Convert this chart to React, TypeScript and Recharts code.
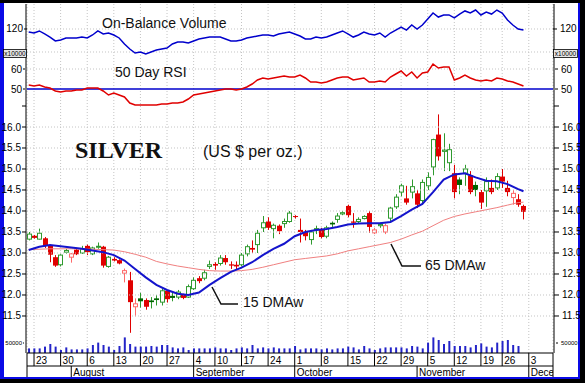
import React from "react"
import { Bar, CartesianGrid, ComposedChart, Line, ReferenceLine, XAxis, YAxis } from "recharts"

const SANS = "'Liberation Sans', Arial, sans-serif"
const SERIF = "'Liberation Serif', 'Times New Roman', serif"

// trading days 20 Jul 2007 .. 30 Nov 2007, index 0..93
const openP = [13.33, 13.41, 13.33, 13.35, 13.18, 12.9, 12.72, 13.02, 12.9, 13.08,
  13.0, 13.17, 12.98, 13.14, 13.15, 12.68, 12.86, 12.83, 12.52, 12.35,
  11.72, 11.92, 11.88, 11.87, 11.92, 11.83, 12.1, 11.98, 11.95, 12.0,
  11.95, 12.15, 12.4, 12.4, 12.68, 12.74, 12.75, 12.88, 12.73, 12.72,
  12.72, 12.98, 13.12, 13.2, 13.6, 13.75, 13.58, 13.65, 13.7, 13.75,
  13.88, 13.55, 13.5, 13.32, 13.55, 13.55, 13.4, 13.72, 13.8, 13.93,
  14.12, 13.75, 13.75, 13.82, 13.95, 13.48, 13.65, 13.5, 13.83, 14.1,
  14.45, 14.3, 14.45, 14.42, 14.25, 14.6, 15.05, 15.82, 15.42, 15.15,
  14.9, 14.75, 14.9, 14.85, 14.62, 14.45, 14.48, 14.55, 14.55, 14.82,
  14.55, 14.32, 14.28, 14.12]
const highP = [13.5, 13.43, 13.58, 13.38, 13.2, 12.95, 12.97, 13.1, 13.0, 13.1,
  13.17, 13.2, 13.15, 13.25, 13.17, 12.93, 12.9, 12.85, 12.63, 12.55,
  11.92, 12.05, 11.92, 11.95, 12.0, 12.15, 12.12, 12.05, 12.12, 12.03,
  12.25, 12.42, 12.45, 12.6, 12.82, 12.78, 12.95, 12.95, 12.8, 12.8,
  13.0, 13.2, 13.3, 13.55, 13.88, 13.85, 13.7, 13.68, 13.82, 14.0,
  13.9, 13.82, 13.55, 13.55, 13.65, 13.6, 13.65, 13.75, 13.95, 14.0,
  14.15, 13.95, 13.85, 13.9, 14.0, 13.6, 13.72, 13.7, 14.1, 14.4,
  14.65, 14.6, 14.75, 14.5, 14.75, 14.92, 15.72, 16.3, 15.85, 15.6,
  15.1, 14.8, 15.1, 14.95, 14.7, 14.5, 14.8, 14.75, 14.9, 15.0,
  14.72, 14.5, 14.4, 14.15]
const lowP = [13.3, 13.34, 13.32, 13.12, 12.78, 12.67, 12.68, 12.98, 12.77, 12.95,
  12.98, 12.95, 12.95, 13.1, 12.65, 12.65, 12.8, 12.73, 12.3, 11.1,
  11.49, 11.7, 11.65, 11.68, 11.75, 11.75, 11.82, 11.85, 11.9, 11.9,
  11.93, 12.12, 12.28, 12.35, 12.62, 12.6, 12.7, 12.72, 12.62, 12.6,
  12.68, 12.92, 13.0, 13.0, 13.5, 13.55, 13.35, 13.45, 13.6, 13.72,
  13.82, 13.25, 13.3, 13.2, 13.45, 13.35, 13.35, 13.62, 13.72, 13.9,
  13.85, 13.6, 13.7, 13.8, 13.48, 13.45, 13.6, 13.45, 13.75, 14.05,
  14.35, 14.15, 14.3, 14.07, 14.15, 14.5, 14.85, 15.2, 14.95, 14.95,
  14.3, 14.4, 14.6, 14.4, 14.35, 14.05, 14.1, 14.4, 14.5, 14.55,
  14.35, 14.15, 14.1, 13.8]
const closeP = [13.45, 13.36, 13.47, 13.17, 12.96, 12.7, 12.95, 13.06, 12.98, 12.97,
  13.1, 13.02, 13.12, 13.16, 12.7, 12.9, 12.82, 12.75, 12.58, 11.83,
  11.79, 11.85, 11.72, 11.83, 11.88, 12.1, 11.9, 11.93, 12.07, 11.93,
  12.2, 12.35, 12.33, 12.53, 12.72, 12.7, 12.88, 12.78, 12.7, 12.68,
  12.95, 13.15, 13.08, 13.47, 13.72, 13.6, 13.66, 13.52, 13.75, 13.95,
  13.86, 13.5, 13.4, 13.5, 13.58, 13.38, 13.6, 13.68, 13.88, 13.96,
  13.9, 13.72, 13.8, 13.87, 13.62, 13.55, 13.68, 13.65, 14.07, 14.33,
  14.6, 14.2, 14.58, 14.15, 14.68, 14.8, 15.7, 15.3, 15.45, 15.46,
  14.45, 14.62, 15.0, 14.45, 14.5, 14.2, 14.7, 14.45, 14.82, 14.7,
  14.45, 14.42, 14.15, 13.98]

// volume in thousands
const volK: (number | null)[] = [23, 23, 23, 32, 45, 32, 15, 28, 18, 18,
  18, 23, 40, 52, 40, 32, 15, 35, 78, 45,
  32, 32, 32, 35, 32, 40, 40, 28, 23, 28,
  15, 23, 23, 23, 23, 28, 23, 23, 15, 23,
  28, 23, 40, 23, 28, 23, 28, 23, 23, 23,
  35, 18, 23, 23, 23, 18, 23, 18, 23, 23,
  32, 28, 18, 35, 23, 15, 23, 28, 28, 28,
  28, 23, 35, 32, 23, 52, 78, 65, 45, 60,
  35, 35, 35, 28, 40, 48, 32, 28, 52, 60,
  65, 40, 35, null]

// on-balance volume, x10000
const obv = [117.4, 116.5, 118.3, 115.7, 113, 109.6, 110.4, 112.2, 112.2, 112.2,
  113, 112.2, 114.8, 118.3, 115.7, 116.5, 114.8, 112.2, 107, 102.6,
  99.1, 100, 98.3, 100, 101.7, 102.6, 103.5, 107, 108.7, 108.7,
  107.8, 109.6, 111.3, 112.2, 113, 113, 113, 111.3, 109.6, 109.6,
  110.4, 112.2, 113, 113.9, 114.8, 114.8, 113.9, 115.7, 116.5, 117.4,
  115.7, 113.9, 111.3, 111.3, 113, 112.2, 113, 114.8, 116.5, 118.3,
  115.7, 113, 114.8, 117.4, 115.7, 114.8, 116.5, 113, 116.5, 119.1,
  121.7, 119.1, 123.5, 120, 123.5, 128.7, 133.9, 130.4, 132.2, 132.2,
  129.6, 133, 135.7, 133.9, 136.5, 132.2, 134.8, 133, 136.5, 133.9,
  127.8, 123.5, 120, 119.1]

const rsi = [52, 51.5, 52, 51, 50.5, 49, 48.5, 49, 49, 49.5,
  49.5, 50.5, 50.5, 50.5, 49, 47, 48, 47, 46, 43,
  42, 42, 42, 42, 42, 42.5, 42.5, 43, 43, 43.5,
  45, 47, 47.5, 48, 48.5, 49, 49.5, 50, 50, 49.5,
  50, 51, 52.5, 54.5, 55.5, 55, 55.5, 56, 56.5, 56,
  56, 57, 55.5, 53.5, 53.5, 53, 53.5, 54.5, 55.5, 56,
  56, 54.5, 55, 55.5, 53.5, 53.5, 54, 53.5, 56, 57.5,
  59, 56.5, 58.5, 55.5, 58, 58.5, 62.5, 60.5, 61, 61,
  54.5, 55.5, 57, 55.5, 54.5, 54, 54.5, 54, 55.5, 55,
  54, 53.5, 52.5, 51.5]

// [day index, value]
const ma15: [number, number][] = [[0, 13.07], [2, 13.15], [4, 13.19], [6, 13.16], [8, 13.13], [10, 13.1],
  [12, 13.06], [14, 13.02], [16, 12.95], [18, 12.82], [20, 12.62], [22, 12.42], [24, 12.24],
  [26, 12.12], [28, 12.03], [30, 12.0], [32, 12.06], [34, 12.24], [36, 12.4], [38, 12.55],
  [40, 12.65], [42, 12.78], [44, 12.95], [46, 13.1], [48, 13.22], [50, 13.4], [52, 13.5],
  [54, 13.55], [56, 13.57], [58, 13.62], [60, 13.68], [62, 13.7], [64, 13.71], [66, 13.71],
  [68, 13.74], [70, 13.88], [72, 14.03], [74, 14.17], [76, 14.45], [78, 14.75], [80, 14.87],
  [82, 14.9], [84, 14.8], [86, 14.72], [88, 14.71], [90, 14.64], [92, 14.52], [93, 14.47]]
const ma65: [number, number][] = [[0, 13.08], [4, 13.1], [8, 13.1], [12, 13.09], [16, 13.07], [18, 13.03],
  [20, 12.97], [22, 12.9], [24, 12.8], [26, 12.74], [28, 12.69], [30, 12.65], [32, 12.61],
  [34, 12.58], [36, 12.57], [38, 12.57], [40, 12.58], [42, 12.61], [44, 12.66], [46, 12.72],
  [48, 12.78], [50, 12.84], [52, 12.87], [54, 12.9], [56, 12.93], [58, 12.98], [60, 13.05],
  [62, 13.1], [64, 13.15], [66, 13.2], [68, 13.25], [70, 13.33], [72, 13.43], [74, 13.52],
  [76, 13.65], [78, 13.78], [80, 13.87], [82, 13.93], [84, 13.98], [86, 14.03], [88, 14.08],
  [90, 14.14], [92, 14.2], [93, 14.21]]

const dayTicks = [1, 6, 11, 16, 21, 26, 31, 35, 40, 45, 50, 55, 60, 65, 70, 75, 80, 85, 89, 94]
const dayLabels = ["23", "30", "6", "13", "20", "27", "4", "10", "17", "24", "1", "8", "15", "22", "29", "5", "12", "19", "26", "3"]
const monthTicks = [8, 31, 50, 73, 94]
const monthLabels = ["August", "September", "October", "November", "December"]
const priceTicks = [11.5, 12, 12.5, 13, 13.5, 14, 14.5, 15, 15.5, 16, 16.5]

const X_DOMAIN = [-0.32, 98.55]

const ma15Map = new Map(ma15)
const ma65Map = new Map(ma65)
const rows = openP.map((o, i) => ({
  i,
  o,
  h: highP[i],
  l: lowP[i],
  c: closeP[i],
  up: i === 0 ? true : closeP[i] >= closeP[i - 1],
  vol: volK[i] == null ? null : (volK[i] as number) * 1000,
  obv: obv[i],
  rsi: rsi[i],
  ma15: ma15Map.get(i) ?? null,
  ma65: ma65Map.get(i) ?? null,
}))

function Candle(props: any) {
  const { x, y, width, height, payload } = props
  if (!payload || height == null) return null
  const { o, h, l, c, up } = payload
  const py = (v: number) => y + ((h - v) / (h - l)) * height
  const cx = Math.round(x + width / 2) + 0.5
  const top = py(Math.max(o, c))
  const bot = Math.max(py(Math.min(o, c)), top + 1)
  const hollow = c >= o
  let col = up ? "#2f9a2f" : "#e00000"
  if (!up && hollow) col = "#ff6a6a"
  const fill = hollow ? "#fff" : up ? "#006400" : "#e00000"
  return (
    <g>
      <line x1={cx} y1={py(h)} x2={cx} y2={py(l)} stroke={col} strokeWidth={1} />
      {hollow ? (
        <rect x={cx - 2} y={top} width={4} height={bot - top} fill={fill} stroke={col} strokeWidth={1} />
      ) : (
        <rect x={cx - 2.5} y={top} width={5} height={bot - top} fill={fill} />
      )}
    </g>
  )
}

function DayTick(props: any) {
  const { x, y, payload } = props
  const k = dayTicks.indexOf(payload.value)
  return (
    <g>
      <line x1={x} y1={y} x2={x} y2={y + 13} stroke="#000" />
      <text x={x + 2} y={y + 11} fontSize={10} fontFamily={SANS} fill="#000">{dayLabels[k]}</text>
    </g>
  )
}

function MonthTick(props: any) {
  const { x, y, payload } = props
  const k = monthTicks.indexOf(payload.value)
  return (
    <g>
      <line x1={x} y1={y} x2={x} y2={y + 11} stroke="#000" />
      <svg x={x} y={y} width={Math.max(1, 553 - x)} height={11} overflow="hidden">
        <text x={2} y={9.5} fontSize={10} fontFamily={SANS} fill="#000">{monthLabels[k]}</text>
      </svg>
    </g>
  )
}

// y-axis tick label, drawn as plain svg text
function yTick(side: "left" | "right", size: number, fmt: (v: number) => string) {
  return (p: any) => (
    <text x={p.x} y={p.y} dy="0.35em" textAnchor={side === "left" ? "end" : "start"}
      fontSize={size} fontFamily={SANS} fill="#000">{fmt(p.payload.value)}</text>
  )
}

// four 1px-wide axes per side sit next to each other; tick sizes even out the step
function leftAx(k: number) {
  return { type: "number" as const, width: 1, allowDataOverflow: true, interval: 0 as const, tickSize: 4 - k, tickMargin: 1, axisLine: k === 0 ? { stroke: "#000" } : false, tickLine: { stroke: "#000" } }
}
function rightAx(k: number) {
  return { ...leftAx(k), orientation: "right" as const, tickSize: 5 - k, tickMargin: 3 }
}

const P_DOMAIN = [10.619, 18.9286]
const OBV_DOMAIN = [-161.739, 141.739]
const RSI_DOMAIN = [-82, 92.5]
const VOL_DOMAIN = [0, 1745000]
const grid = { stroke: "#c4c4c4", strokeDasharray: "1 2" }
const priceFmt = (v: number) => (v > 16.2 ? "" : v.toFixed(1))
const plain = (v: number) => String(v)

export default function App() {
  return (
    <div style={{ position: "absolute", left: 0, top: 0, width: 585, height: 383, background: "#000", overflow: "hidden" }}>
      <div style={{ position: "absolute", left: 0, top: 3, width: 580, height: 376, background: "#0a0ae6" }} />
      <div style={{ position: "absolute", left: 4, top: 3, width: 574, height: 374, background: "#fff" }} />
      <div style={{ position: "absolute", left: 0, top: 0 }}>
        <ComposedChart width={585} height={383} data={rows} margin={{ top: 4, right: 28, bottom: 6, left: 23 }}>
          <XAxis dataKey="i" type="number" domain={X_DOMAIN} allowDataOverflow ticks={dayTicks} interval={0}
            height={13} tickSize={0} tickMargin={0} tickLine={false} axisLine={{ stroke: "#000" }}
            tick={(p: any) => <DayTick {...p} />} />
          <XAxis xAxisId="m" dataKey="i" type="number" domain={X_DOMAIN} allowDataOverflow ticks={monthTicks} interval={0}
            height={11} tickSize={0} tickMargin={0} tickLine={false} axisLine={{ stroke: "#000" }}
            tick={(p: any) => <MonthTick {...p} />} />
          <XAxis xAxisId="vx" dataKey="i" type="number" domain={X_DOMAIN} allowDataOverflow hide />

          <YAxis yAxisId="pL" {...leftAx(0)} domain={P_DOMAIN} ticks={priceTicks} tick={yTick("left", 10, priceFmt)} />
          <YAxis yAxisId="obvL" {...leftAx(1)} domain={OBV_DOMAIN} ticks={[120]} tick={yTick("left", 10, plain)} />
          <YAxis yAxisId="rsiL" {...leftAx(2)} domain={RSI_DOMAIN} ticks={[50, 60]} tick={yTick("left", 10, plain)} />
          <YAxis yAxisId="vL" {...leftAx(3)} domain={VOL_DOMAIN} ticks={[50000]} tick={yTick("left", 6, plain)} />
          <YAxis yAxisId="pR" {...rightAx(0)} domain={P_DOMAIN} ticks={priceTicks} tick={yTick("right", 10, priceFmt)} />
          <YAxis yAxisId="obvR" {...rightAx(1)} domain={OBV_DOMAIN} ticks={[120]} tick={yTick("right", 10, plain)} />
          <YAxis yAxisId="rsiR" {...rightAx(2)} domain={RSI_DOMAIN} ticks={[50, 60]} tick={yTick("right", 10, plain)} />
          <YAxis yAxisId="vR" {...rightAx(3)} domain={VOL_DOMAIN} ticks={[50000]} tick={yTick("right", 6, plain)} />

          <CartesianGrid yAxisId="pL" horizontal={false} vertical {...grid} />
          {priceTicks.filter((t) => t <= 16).map((t) => (
            <ReferenceLine key={t} yAxisId="pL" y={t} {...grid} />
          ))}
          <ReferenceLine yAxisId="obvL" y={100} {...grid} />
          <ReferenceLine yAxisId="obvL" y={120} {...grid} />
          <ReferenceLine yAxisId="rsiL" y={60} {...grid} />
          <ReferenceLine yAxisId="rsiL" y={50} stroke="#0000cc" strokeWidth={1.5} />

          <Bar xAxisId="vx" yAxisId="vL" dataKey="vol" barSize={2} fill="#2424c8" isAnimationActive={false} />
          <Line yAxisId="obvL" dataKey="obv" stroke="#0000cc" strokeWidth={1.5} dot={false} activeDot={false} isAnimationActive={false} />
          <Line yAxisId="rsiL" dataKey="rsi" stroke="#e00000" strokeWidth={1.5} dot={false} activeDot={false} isAnimationActive={false} />
          <Line yAxisId="pL" dataKey="ma65" stroke="#f08080" strokeWidth={1} dot={false} activeDot={false} connectNulls isAnimationActive={false} />
          <Bar yAxisId="pL" dataKey={(d: any) => [d.l, d.h]} barSize={5} shape={(p: any) => <Candle {...p} />} isAnimationActive={false} />
          <Line yAxisId="pL" dataKey="ma15" stroke="#1414cc" strokeWidth={2} dot={false} activeDot={false} connectNulls isAnimationActive={false} />
        </ComposedChart>
      </div>
      <svg width={585} height={383} style={{ position: "absolute", left: 0, top: 0, pointerEvents: "none" }}>
        <line x1={27} y1={353} x2={27} y2={377} stroke="#000" />
        <line x1={553} y1={353} x2={553} y2={377} stroke="#000" />
        <text x={102} y={28} fontSize={14} fontFamily={SANS} fill="#111">On-Balance Volume</text>
        <text x={115} y={77} fontSize={14} fontFamily={SANS} fill="#111">50 Day RSI</text>
        <text x={75} y={158} fontSize={24} fontWeight="bold" fontFamily={SERIF} fill="#111">SILVER</text>
        <text x={203} y={157} fontSize={16} fontFamily={SANS} fill="#111">(US $ per oz.)</text>
        <polyline points="212,287 221,304 238,304" fill="none" stroke="#111" strokeWidth={1.5} />
        <text x={243} y={307} fontSize={14} fontFamily={SANS} fill="#111">15 DMAw</text>
        <polyline points="391,244 402,266 421,266" fill="none" stroke="#111" strokeWidth={1.5} />
        <text x={425} y={270} fontSize={14} fontFamily={SANS} fill="#111">65 DMAw</text>
        <rect x={3.5} y={49.5} width={23} height={8} fill="#e6e6e6" stroke="#000" strokeWidth={0.8} />
        <text x={15} y={56.3} fontSize={6.5} textAnchor="middle" fontFamily={SANS} fill="#000">x10000</text>
        <rect x={553.5} y={49.5} width={24} height={8} fill="#e6e6e6" stroke="#000" strokeWidth={0.8} />
        <text x={565.5} y={56.3} fontSize={6.5} textAnchor="middle" fontFamily={SANS} fill="#000">x10000</text>
      </svg>
    </div>
  )
}
